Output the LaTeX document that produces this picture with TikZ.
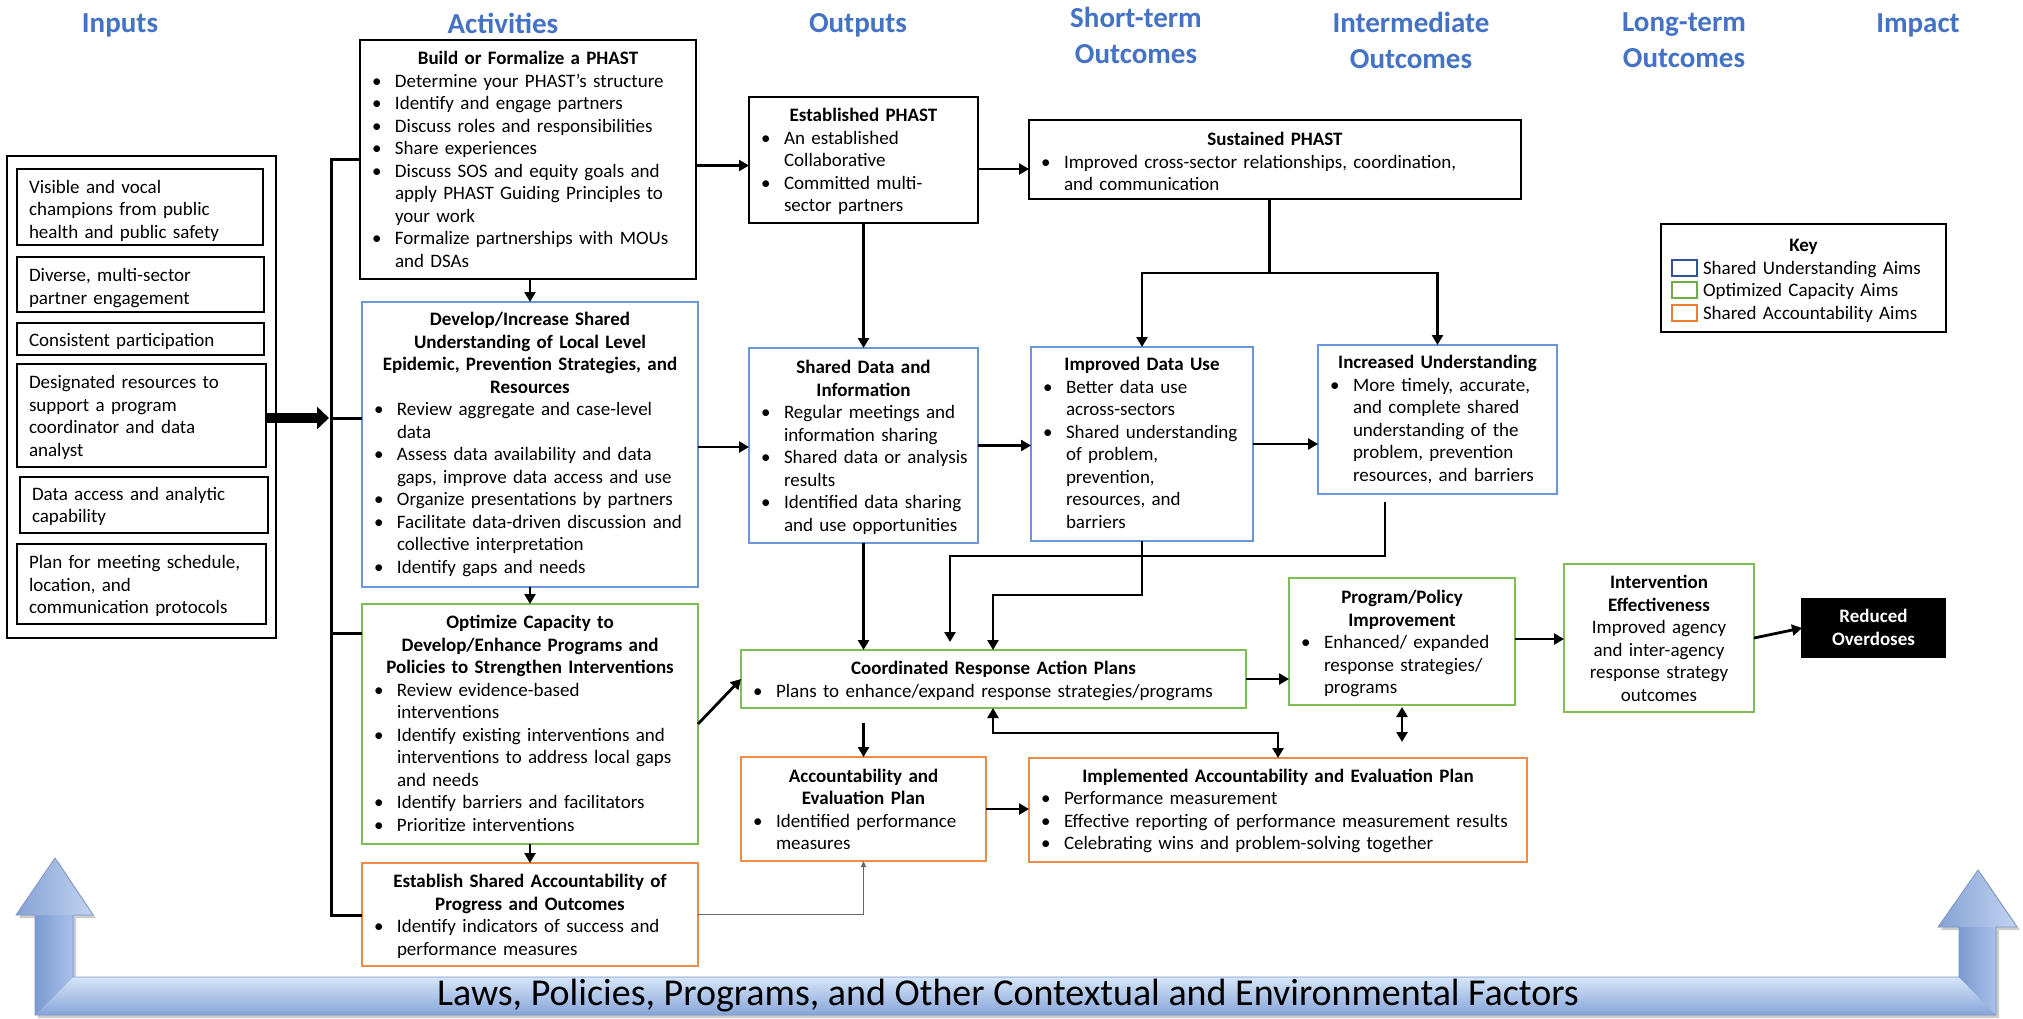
\documentclass[tikz,border=0pt]{standalone}
\usepackage{fontspec}
\setmainfont{Carlito}
\usetikzlibrary{arrows.meta,calc}
\definecolor{hdrblue}{HTML}{4472C4}
\definecolor{bxblue}{HTML}{6A96DA}
\definecolor{bxgreen}{HTML}{80BD55}
\definecolor{bxorange}{HTML}{F08A45}
\definecolor{kblue}{HTML}{2F5597}
\definecolor{kgreen}{HTML}{70AD47}
\definecolor{korange}{HTML}{ED7D31}
\definecolor{barlt}{HTML}{D5E6F9}
\definecolor{bardk}{HTML}{88A5D9}
\definecolor{shdk}{HTML}{7C9AD0}
\definecolor{shlt}{HTML}{A8C1EA}
\definecolor{arredge}{HTML}{7F98C6}
\newcommand\setupfs{\fontsize{19}{22.5}\selectfont\lineskip=0pt\relax\parskip=0pt\relax}
\newcommand\hdrfs{\fontsize{29}{36}\selectfont}
\newcommand\ttl[1]{\par\noindent\makebox[\hsize]{\bfseries\begin{tabular}[t]{@{}c@{}}#1\end{tabular}}\par}
\newcommand\ctr[1]{\par\noindent\makebox[\hsize]{\begin{tabular}[t]{@{}c@{}}#1\end{tabular}}\par}
\newcommand\itm[1]{\par\noindent\makebox[23pt][l]{\textbullet}\begin{tabular}[t]{@{}l@{}}#1\end{tabular}\par}
\newcommand\pln[1]{\par\noindent\begin{tabular}[t]{@{}l@{}}#1\end{tabular}\par}
\newcommand\bx[6]{\node[box,draw=#6,minimum width=#4pt,minimum height=#5pt,anchor=north west] (#1) at (#2,#3) {};}
\newcommand\tx[4]{\node[txt,text width=#2pt] (#1-t) at ([xshift=12pt,yshift=-#3pt]#1.north west) {#4};}
\begin{document}
\begin{tikzpicture}[x=1pt,y=-1pt,
 box/.style={line width=1.6pt, inner sep=0pt, outer sep=0pt, fill=white},
 txt/.style={inner sep=0pt, outer sep=0pt, font=\setupfs, text=black, anchor=north west},
 hdr/.style={inner sep=0pt, font=\hdrfs\bfseries, text=hdrblue, align=center},
 conn/.style={line width=3pt},
 arr/.style={line width=2.8pt, -{Triangle[length=10pt,width=11pt]}},
 dbl/.style={line width=2.8pt, {Triangle[length=10pt,width=11pt]}-{Triangle[length=10pt,width=11pt]}},
 thinarr/.style={line width=1pt, draw=black!60, -{Triangle[length=6pt,width=5pt]}},
 fat/.style={line width=10pt, -{Triangle[length=12pt,width=22pt]}},
 keysq/.style={line width=2pt, inner sep=0pt, outer sep=0pt, minimum width=25pt, minimum height=16pt, anchor=north west},
]
\useasboundingbox (0,0) rectangle (2023,1018);
\fill[white] (0,0) rectangle (2023,1018);

% ---------- headers
\node[hdr] (h-in) at (120,25.5) {Inputs};
\node[hdr] (h-act) at (503,23) {Activities};
\node[hdr] (h-out) at (858,25.5) {Outputs};
\node[hdr] (h-st) at (1136,35) {Short-term\\Outcomes};
\node[hdr] (h-im) at (1411,40) {Intermediate\\Outcomes};
\node[hdr] (h-lt) at (1684,40) {Long-term\\Outcomes};
\node[hdr] (h-ip) at (1918,25) {Impact};

% ---------- inputs
\node[box,draw=black,line width=2.5pt,minimum width=269pt,minimum height=482pt,anchor=north west] (inputs) at (7,156) {};
\bx{in1}{17}{169}{246}{76}{black}
\bx{in2}{17}{257}{247}{55}{black}
\bx{in3}{17}{323}{247}{32}{black}
\bx{in4}{17}{364}{249}{103}{black}
\bx{in5}{20}{477}{248}{56}{black}
\bx{in6}{17}{544}{249}{80}{black}
\tx{in1}{222}{1.5}{\pln{Visible and vocal\\champions from public\\health and public safety}}
\tx{in2}{222}{2}{\pln{Diverse, multi-sector\\partner engagement}}
\tx{in3}{222}{1.3}{\pln{Consistent participation}}
\tx{in4}{222}{2}{\pln{Designated resources to\\support a program\\coordinator and data\\analyst}}
\tx{in5}{222}{0.5}{\pln{Data access and analytic\\capability}}
\tx{in6}{222}{2}{\pln{Plan for meeting schedule,\\location, and\\communication protocols}}

% ---------- activities
\bx{build}{360}{40}{336}{239}{black}
\bx{develop}{362}{302}{336}{285}{bxblue}
\bx{optimize}{362}{604}{336}{240}{bxgreen}
\bx{establish}{362}{863}{336}{103}{bxorange}
\tx{build}{312}{2.3}{\ttl{Build or Formalize a PHAST}
 \itm{Determine your PHAST’s structure}
 \itm{Identify and engage partners}
 \itm{Discuss roles and responsibilities}
 \itm{Share experiences}
 \itm{Discuss SOS and equity goals and\\apply PHAST Guiding Principles to\\your work}
 \itm{Formalize partnerships with MOUs\\and DSAs}}
\tx{develop}{312}{1.2}{\ttl{Develop/Increase Shared\\Understanding of Local Level\\Epidemic, Prevention Strategies, and\\Resources}
 \itm{Review aggregate and case-level\\data}
 \itm{Assess data availability and data\\gaps, improve data access and use}
 \itm{Organize presentations by partners}
 \itm{Facilitate data-driven discussion and\\collective interpretation}
 \itm{Identify gaps and needs}}
\tx{optimize}{312}{2.3}{\ttl{Optimize Capacity to\\Develop/Enhance Programs and\\Policies to Strengthen Interventions}
 \itm{Review evidence-based\\interventions}
 \itm{Identify existing interventions and\\interventions to address local gaps\\and needs}
 \itm{Identify barriers and facilitators}
 \itm{Prioritize interventions}}
\tx{establish}{312}{2.3}{\ttl{Establish Shared Accountability of\\Progress and Outcomes}
 \itm{Identify indicators of success and\\performance measures}}

% ---------- outputs and outcomes
\bx{outphast}{749}{97}{229}{126}{black}
\bx{shdata}{749}{348}{229}{195}{bxblue}
\bx{sustain}{1029}{120}{492}{79}{black}
\bx{datause}{1031}{347}{222}{194}{bxblue}
\bx{underst}{1318}{345}{239}{149}{bxblue}
\bx{coord}{741}{650}{505}{58}{bxgreen}
\bx{prog}{1289}{578}{226}{127}{bxgreen}
\bx{interv}{1564}{564}{190}{148}{bxgreen}
\node[box,draw=black,fill=black,minimum width=143pt,minimum height=58pt,anchor=north west] (reduced) at (1802,599) {};
\bx{acc}{741}{757}{245}{104}{bxorange}
\bx{impl}{1029}{758}{498}{104}{bxorange}
\bx{key}{1661}{224}{285}{108}{black}

\tx{outphast}{205}{2.3}{\ttl{Established PHAST}
 \itm{An established\\Collaborative}
 \itm{Committed multi-\\sector partners}}
\tx{shdata}{205}{3}{\ttl{Shared Data and\\Information}
 \itm{Regular meetings and\\information sharing}
 \itm{Shared data or analysis\\results}
 \itm{Identified data sharing\\and use opportunities}}
\tx{sustain}{468}{3}{\ttl{Sustained PHAST}
 \itm{Improved cross-sector relationships, coordination,\\and communication}}
\tx{datause}{198}{1.3}{\ttl{Improved Data Use}
 \itm{Better data use\\across-sectors}
 \itm{Shared understanding\\of problem,\\prevention,\\resources, and\\barriers}}
\tx{underst}{215}{1.3}{\ttl{Increased Understanding}
 \itm{More timely, accurate,\\and complete shared\\understanding of the\\problem, prevention\\resources, and barriers}}
\tx{coord}{481}{2.3}{\ttl{Coordinated Response Action Plans}
 \itm{Plans to enhance/expand response strategies/programs}}
\tx{prog}{202}{3}{\ttl{Program/Policy\\Improvement}
 \itm{Enhanced/ expanded\\response strategies/\\programs}}
\tx{interv}{166}{2.3}{\ttl{Intervention\\Effectiveness}
 \ctr{Improved agency\\and inter-agency\\response strategy\\outcomes}}
\node[txt,text width=119pt,text=white] (reduced-t) at ([xshift=12pt,yshift=-1.3pt]reduced.north west) {\ttl{Reduced\\Overdoses}};
\tx{acc}{221}{2.5}{\ttl{Accountability and\\Evaluation Plan}
 \itm{Identified performance\\measures}}
\tx{impl}{474}{1.5}{\ttl{Implemented Accountability and Evaluation Plan}
 \itm{Performance measurement}
 \itm{Effective reporting of performance measurement results}
 \itm{Celebrating wins and problem-solving together}}

% ---------- key
\tx{key}{261}{5}{\ttl{Key}
 \par\noindent\hspace*{30pt}Shared Understanding Aims\par
 \par\noindent\hspace*{30pt}Optimized Capacity Aims\par
 \par\noindent\hspace*{30pt}Shared Accountability Aims\par}
\node[keysq,draw=kblue] (ksq1) at (1672,260) {};
\node[keysq,draw=kgreen] (ksq2) at (1672,282) {};
\node[keysq,draw=korange] (ksq3) at (1672,305) {};

% ---------- connectors
\coordinate (b1) at (331,160);
\coordinate (b2) at (331,418);
\coordinate (b3) at (331,633);
\coordinate (b4) at (331,915);
\draw[conn] (build.west) -- (build.west -| b1) -- (b4) -- (establish.west |- b4);
\draw[conn] (b2) -- (develop.west |- b2);
\draw[conn] (b3) -- (optimize.west |- b3);
\draw[fat] (in4.east |- b2) -- ([xshift=-2pt]b2);

\draw[arr] (develop.north |- build.south) -- (develop.north);
\draw[arr] (develop.south) -- (optimize.north);
\draw[arr] (optimize.south) -- (establish.north);

\draw[arr] ([yshift=-6pt]build.east) -- ([yshift=-6pt]build.east -| outphast.west);
\draw[arr] ([yshift=-9pt]outphast.east) -- ([yshift=-9pt]outphast.east -| sustain.west);
\draw[arr] (outphast.south) -- (shdata.north);

\coordinate (sp) at (1269,273);
\draw[conn] (sustain.south -| sp) -- (sp);
\draw[arr] (sp) -| (datause.north);
\draw[arr] (sp) -| (underst.north);

\draw[arr] ([yshift=-2.5pt]develop.east) -- ([yshift=-2.5pt]develop.east -| shdata.west);
\draw[arr] (shdata.east) -- (shdata.east -| datause.west);
\draw[arr] (datause.east) -- (datause.east -| underst.west);
\draw[arr] (shdata.south) -- (shdata.south |- coord.north);

\coordinate (u1) at (1385,556);
\coordinate (u2) at (950,556);
\draw[arr] ([yshift=-8pt]underst.south -| u1) -- (u1) -- (u2) -- ([yshift=8pt]coord.north -| u2);
\coordinate (d1) at (1142,595);
\coordinate (d2) at (993,595);
\draw[arr] (datause.south) -- (d1) -- (d2) -- (coord.north -| d2);

\draw[arr] (optimize.east) -- (coord.west);
\draw[arr] (coord.east) -- (coord.east -| prog.west);
\draw[arr] ([yshift=2.5pt]prog.east) -- ([yshift=2.5pt]prog.east -| interv.west);
\draw[arr] (interv.east) -- (reduced.west);
\draw[dbl] ([yshift=-2pt]prog.south) -- ([yshift=16pt]prog.south |- impl.north);
\draw[arr] ([yshift=-15pt]coord.south -| acc.north) -- (acc.north);
\coordinate (e1) at (993,733);
\coordinate (e2) at (1278,733);
\draw[dbl] (coord.south -| e1) -- (e1) -- (e2) -- (impl.north -| e2);
\draw[arr] (acc.east) -- (acc.east -| impl.west);
\draw[thinarr] (establish.east) -| (acc.south);

% ---------- bottom contextual arrow
\fill[black!20] (38,1018) -- (38,918) -- (19,918) -- (58,861) -- (96,918) -- (76,918) -- (76,980) -- (1962,980) -- (1962,930) -- (1941,930) -- (1981,873) -- (2020,930) -- (1999,930) -- (1999,1018) -- cycle;
\fill[bardk] (35,1015) -- (35,915) -- (16,915) -- (55,858) -- (93,915) -- (73,915) -- (73,977) -- (1959,977) -- (1959,927) -- (1938,927) -- (1978,870) -- (2017,927) -- (1996,927) -- (1996,1015) -- cycle;
\shade[top color=barlt, bottom color=bardk] (35,1015) -- (73,977) -- (1959,977) -- (1996,1015) -- cycle;
\shade[left color=shdk, right color=shlt] (35,915) -- (73,915) -- (73,977) -- (35,1015) -- cycle;
\shade[left color=shdk, right color=shlt] (1959,927) -- (1996,927) -- (1996,1015) -- (1959,977) -- cycle;
\shade[left color=shdk!80!shlt, right color=shlt!70!white] (16,915) -- (55,858) -- (93,915) -- cycle;
\shade[left color=shdk!80!shlt, right color=shlt!70!white] (1938,927) -- (1978,870) -- (2017,927) -- cycle;
\draw[arredge, line width=0.8pt] (35,1015) -- (35,915) -- (16,915) -- (55,858) -- (93,915) -- (73,915) -- (73,977) -- (1959,977) -- (1959,927) -- (1938,927) -- (1978,870) -- (2017,927) -- (1996,927) -- (1996,1015) -- cycle;
\node[inner sep=0pt, font=\fontsize{38}{42}\selectfont, text=black] (laws) at (1008,996) {Laws, Policies, Programs, and Other Contextual and Environmental Factors};
\end{tikzpicture}
\end{document}
